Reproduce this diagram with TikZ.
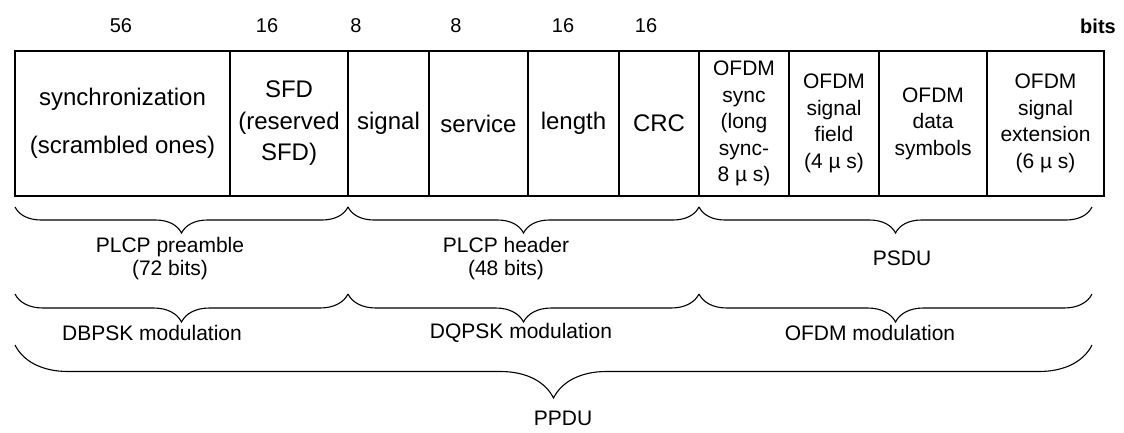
\documentclass[tikz,border=0pt]{standalone}
\usepackage{fontspec}
\setmainfont{Liberation Sans}
\usetikzlibrary{decorations.pathreplacing}

\begin{document}
\begin{tikzpicture}[x=1pt,y=-1pt,
  field/.style={draw, line width=1.3pt, minimum height=145pt, inner sep=0pt,
    align=center, font=\fontsize{24}{31.5}\selectfont},
  ofdm/.style={field, font=\fontsize{21}{26.5}\selectfont},
  count/.style={font=\fontsize{20}{24}\selectfont, inner sep=0pt},
  lbl/.style={font=\fontsize{21}{23}\selectfont, inner sep=0pt, align=center},
  brc/.style={decorate, line width=1.1pt,
    decoration={brace, mirror, amplitude=#1}},
]
\useasboundingbox (0,0) rectangle (1124,433);

% frame fields
\node[field, minimum width=215pt] (sync) at (122.5,123.5)
  {synchronization\\[16pt](scrambled ones)};
\node[field, minimum width=118pt] (sfd) at (289,123.5) {SFD\\(reserved\\SFD)};
\node[field, minimum width=81pt]  (signal) at (388.5,123.5) {signal};
\node[field, minimum width=99pt]  (service) at (478.5,123.5) {service};
\node[field, minimum width=91pt]  (length) at (573.5,123.5) {length};
\node[field, minimum width=80pt]  (crc) at (659,123.5) {CRC};
\node[ofdm, minimum width=90pt]   (osync) at (744,123.5)
  {OFDM\\sync\\(long\\sync-\\8~µ~s)};
\node[ofdm, minimum width=90pt]   (osig) at (834,123.5)
  {OFDM\\signal\\field\\(4~µ~s)};
\node[ofdm, minimum width=108pt]  (odata) at (933,123.5)
  {OFDM\\data\\symbols};
\node[ofdm, minimum width=117pt]  (oext) at (1045.5,123.5)
  {OFDM\\signal\\extension\\(6~µ~s)};

% field sizes
\node[count] (n1) at (121,26) {56};
\node[count] (n2) at (267,26) {16};
\node[count] (n3) at (356,26) {8};
\node[count] (n4) at (456,26) {8};
\node[count] (n5) at (563,26) {16};
\node[count] (n6) at (646,26) {16};
\node[count, font=\fontsize{20}{24}\selectfont\bfseries] (unit) at (1098,26) {bits};

% brace end points
\coordinate (a0) at (15,207);
\coordinate (a1) at (348,207);
\coordinate (a2) at (699,207);
\coordinate (a3) at (1092,207);
\coordinate (b0) at (15,294);
\coordinate (b1) at (348,294);
\coordinate (b2) at (699,294);
\coordinate (b3) at (1092,294);
\coordinate (c0) at (15,345);
\coordinate (c1) at (1092,345);

% field groups
\draw[brc=26pt] (a0) -- (a1);
\draw[brc=26pt] (a1) -- (a2);
\draw[brc=26pt] (a2) -- (a3);
\node[lbl] (pre) at (170,259) {PLCP preamble\\(72 bits)};
\node[lbl] (hdr) at (506,259) {PLCP header\\(48 bits)};
\node[lbl] (psdu) at (902,258) {PSDU};

% modulation
\draw[brc=28pt] (b0) -- (b1);
\draw[brc=28pt] (b1) -- (b2);
\draw[brc=28pt] (b2) -- (b3);
\node[lbl] (dbpsk) at (152,333) {DBPSK modulation};
\node[lbl] (dqpsk) at (521,333) {DQPSK modulation};
\node[lbl] (ofdmm) at (870,333) {OFDM modulation};

% whole frame
\draw[brc=53pt] (c0) -- (c1);
\node[lbl] (ppdu) at (563,418) {PPDU};
\end{tikzpicture}
\end{document}
